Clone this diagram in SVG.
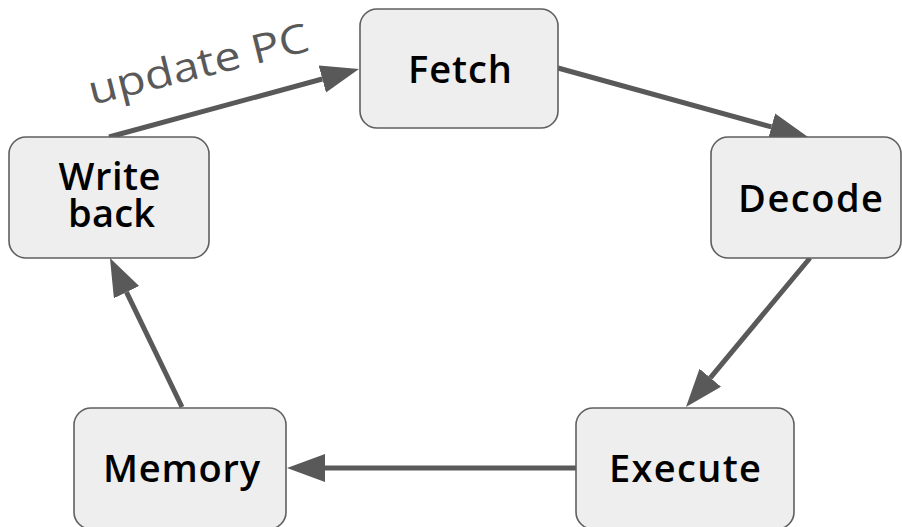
<svg xmlns="http://www.w3.org/2000/svg" width="902" height="527" viewBox="0 0 902 527">
  <style>
    .box { fill: #eeeeee; stroke: #5f5f5f; stroke-width: 1.6; }
    .label { font-family: "Open Sans", "Liberation Sans", sans-serif; font-weight: 600; font-size: 38px; fill: #000000; text-anchor: middle; }
    .edge { stroke: #595959; stroke-width: 5; fill: none; marker-end: url(#head); }
    .note { font-family: "Open Sans", "Liberation Sans", sans-serif; font-weight: 400; font-size: 40px; fill: #595959; }
  </style>
  <defs>
    <marker id="head" markerUnits="userSpaceOnUse" markerWidth="40" markerHeight="30" refX="0" refY="14" orient="auto" viewBox="0 0 40 30">
      <path d="M0,0 L38,14 L0,28 z" fill="#595959"/>
    </marker>
  </defs>
  <rect width="902" height="527" fill="#ffffff"/>

  <g id="connectors">
    <line class="edge" x1="109" y1="137" x2="322.3" y2="79"/>
    <line class="edge" x1="558" y1="68" x2="771.4" y2="126.9"/>
    <line class="edge" x1="810" y1="258" x2="710.3" y2="377.8"/>
    <line class="edge" x1="576" y1="468" x2="325" y2="468"/>
    <line class="edge" x1="182" y1="407" x2="126.5" y2="292.2"/>
    <text class="note" transform="translate(92,105) rotate(-14)" textLength="226" lengthAdjust="spacingAndGlyphs">update PC</text>
  </g>

  <g id="fetch">
    <rect class="box" x="360" y="9" width="198" height="119" rx="17"/>
    <text class="label" x="460" y="83" textLength="104">Fetch</text>
  </g>
  <g id="decode">
    <rect class="box" x="711" y="137" width="190" height="121" rx="17"/>
    <text class="label" x="810.5" y="212" textLength="145">Decode</text>
  </g>
  <g id="execute">
    <rect class="box" x="576" y="408" width="218" height="121" rx="17"/>
    <text class="label" x="685" y="482" textLength="152">Execute</text>
  </g>
  <g id="memory">
    <rect class="box" x="74" y="408" width="212" height="121" rx="17"/>
    <text class="label" x="181.5" y="482" textLength="157">Memory</text>
  </g>
  <g id="writeback">
    <rect class="box" x="9" y="137" width="200" height="121" rx="17"/>
    <text class="label" x="109.5" y="190" textLength="102">Write</text>
    <text class="label" x="111.5" y="227" textLength="87">back</text>
  </g>
</svg>
